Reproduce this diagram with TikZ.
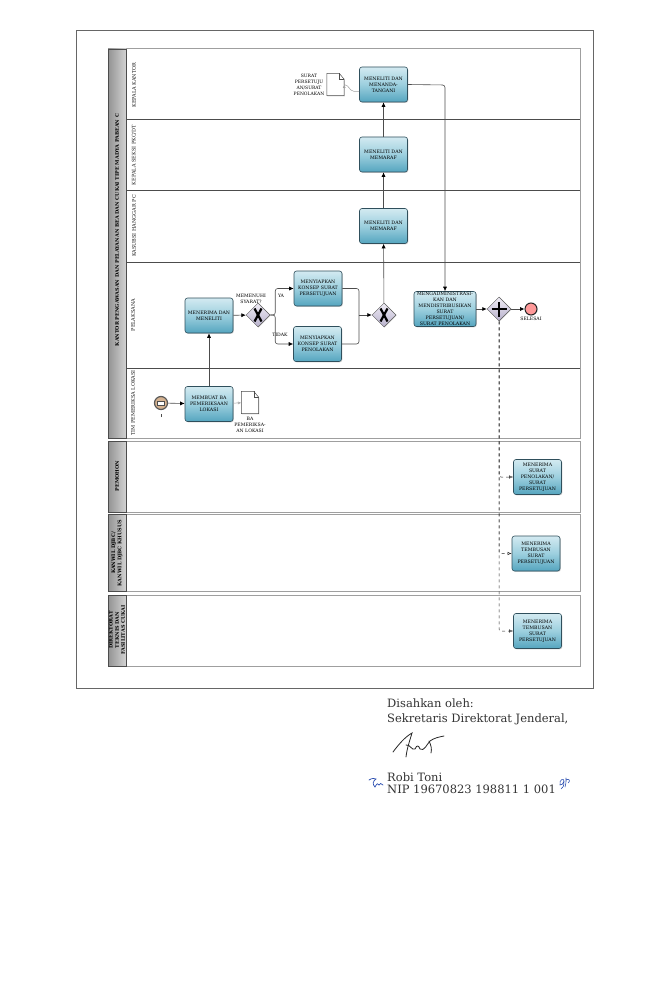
\documentclass[tikz,border=0pt]{standalone}
\usepackage{fontspec}
\usetikzlibrary{arrows.meta,shapes.geometric,shadows}
\newfontfamily\flowfont{DejaVu Serif}
\definecolor{taskline}{HTML}{2F4F5C}
\definecolor{tasktop}{HTML}{D3EAF1}
\definecolor{taskmid}{HTML}{9CCFDE}
\definecolor{taskbot}{HTML}{55A5BF}
\definecolor{gatetop}{HTML}{EFECF5}
\definecolor{gatebot}{HTML}{B8B1CC}
\definecolor{penink}{HTML}{2A4DB0}
\tikzset{
  tasknode/.style={draw=taskline,line width=0.6pt,rounded corners=2.5pt,top color=tasktop,bottom color=taskbot,middle color=taskmid,
    minimum width=48pt,minimum height=35pt,inner sep=0pt,align=center,text=black,
    font=\flowfont\fontsize{4.7}{5.9}\selectfont,drop shadow={shadow xshift=0.8pt,shadow yshift=-0.8pt,fill=gray!70}},
  gatenode/.style={diamond,draw=gray!70!black,line width=0.5pt,top color=gatetop,bottom color=gatebot,
    minimum size=24pt,inner sep=0pt,drop shadow={shadow xshift=0.6pt,shadow yshift=-0.6pt,fill=gray!60}},
  docnode/.style={minimum width=17pt,minimum height=22pt,inner sep=0pt},
  lanetext/.style={rotate=90,align=center,text=black!90,font=\flowfont\fontsize{5}{5.6}\selectfont},
  pooltext/.style={rotate=90,align=center,text=black,font=\flowfont\bfseries\fontsize{4.9}{6.2}\selectfont},
  smalltext/.style={align=center,text=black,font=\flowfont\fontsize{4.6}{6}\selectfont},
  flowline/.style={draw=black!70,line width=0.6pt,rounded corners=2.5pt,-{Latex[length=4.5pt,width=4pt,black]}},
  dashline/.style={draw=black!85,line width=0.5pt,dashed,rounded corners=2pt,-{Latex[open,length=4pt,width=3.2pt]}},
  assocline/.style={draw=gray!75,line width=0.5pt,rounded corners=2pt,-{Latex[open,length=3.5pt,width=3pt]}},
  signtext/.style={anchor=west,align=left,inner sep=0pt,text=black!80}
}
\begin{document}
\begin{tikzpicture}[x=1pt,y=-1pt]
  \useasboundingbox (0,0) rectangle (654,1000);
  \draw[gray!80!black,line width=0.8pt] (76,30) rectangle (593,688);

  \foreach \ya/\yb in {49/438,441/512,514/591,595/666}{
    \draw[gray!75,line width=1pt] (108,\ya) rectangle (580,\yb);
    \shade[left color=gray!85,right color=gray!35] (108,\ya) rectangle (126,\yb);
    \draw[gray!60!black,line width=0.7pt] (108,\ya) rectangle (126,\yb);
  }
  \foreach \y in {119,190,262,368}{
    \draw[black!70,line width=0.6pt] (126,\y) -- (580,\y);
  }

  \node[pooltext] (kantor) at (117,230) {KANTOR PENGAWASAN DAN PELAYANAN BEA DAN CUKAI TIPE MADYA PABEAN C};
  \node[pooltext] (pemohon) at (117,476) {PEMOHON};
  \node[pooltext] (kanwil) at (117,553) {KANWIL DJBC/\\KANWIL DJBC KHUSUS};
  \node[pooltext] (direktorat) at (117,630) {DIREKTORAT\\TEKNIS DAN\\FASILITAS CUKAI};

  \node[lanetext] (lanekepala) at (134,85) {KEPALA KANTOR};
  \node[lanetext] (laneseksi) at (134,155) {KEPALA SEKSI PKC/DT};
  \node[lanetext] (lanesubsi) at (134,226) {KASUBSI HANGGAR PC};
  \node[lanetext] (lanepelaksana) at (133,315) {PELAKSANA};
  \node[lanetext] (lanetim) at (133,403) {TIM PEMERIKSA LOKASI};

  \node[tasknode] (tandatangan) at (383.5,84.5) {MENELITI DAN\\MENANDA-\\TANGANI};
  \node[tasknode] (paraf) at (383.5,154.5) {MENELITI DAN\\MEMARAF};
  \node[tasknode] (subsi) at (383.5,226) {MENELITI DAN\\MEMARAF};
  \node[tasknode] (teliti) at (209,315.5) {MENERIMA DAN\\MENELITI};
  \node[tasknode] (periksa) at (209,404) {MEMBUAT BA\\PEMERIKSAAN\\LOKASI};
  \node[tasknode] (setuju) at (318,288.5) {MENYIAPKAN\\KONSEP SURAT\\PERSETUJUAN};
  \node[tasknode] (tolak) at (317.5,344) {MENYIAPKAN\\KONSEP SURAT\\PENOLAKAN};
  \node[tasknode,minimum width=62pt] (kirim) at (445,309) {MENGADMINISTRASI-\\KAN DAN\\MENDISTRIBUSIKAN\\SURAT\\PERSETUJUAN/\\SURAT PENOLAKAN};
  \node[tasknode] (terimaa) at (537.5,477) {MENERIMA\\SURAT\\PENOLAKAN/\\SURAT\\PERSETUJUAN};
  \node[tasknode] (terimab) at (536,553.5) {MENERIMA\\TEMBUSAN\\SURAT\\PERSETUJUAN};
  \node[tasknode] (terimac) at (537.5,631) {MENERIMA\\TEMBUSAN\\SURAT\\PERSETUJUAN};

  \node[gatenode] (syarat) at (258,315) {};
  \node[gatenode] (gabung) at (384,315) {};
  \node[gatenode] (bagi) at (499,309) {};
  \foreach \g in {syarat,gabung}{
    \draw[black,line width=2.2pt] ([shift={(-3.5,-6.5)}]\g.center) -- ([shift={(3.5,6.5)}]\g.center);
    \draw[black,line width=2.2pt] ([shift={(3.5,-6.5)}]\g.center) -- ([shift={(-3.5,6.5)}]\g.center);
  }
  \draw[black,line width=1.4pt] ([xshift=-7.5pt]bagi.center) -- ([xshift=7.5pt]bagi.center);
  \draw[black,line width=1.4pt] ([yshift=-7.5pt]bagi.center) -- ([yshift=7.5pt]bagi.center);

  \node[circle,draw=gray!70!black,line width=1.2pt,fill=orange!45!gray!60,minimum size=13pt,inner sep=0pt,
    drop shadow={shadow xshift=0.5pt,shadow yshift=-0.5pt,fill=gray!60}] (mulai) at (161,403) {};
  \fill[white,draw=black!70,line width=0.3pt] ([shift={(-3.5,-2)}]mulai.center) rectangle ([shift={(3.5,2)}]mulai.center);
  \draw[black!70,line width=0.4pt] ([yshift=-7pt]mulai.south) -- ([yshift=-3.5pt]mulai.south);
  \node[circle,draw=black!85,line width=1pt,fill=red!40,minimum size=12pt,inner sep=0pt,
    drop shadow={shadow xshift=0.6pt,shadow yshift=-0.6pt,fill=gray!60}] (selesai) at (531,309) {};
  \node[smalltext] (selesaitext) at (531,319) {SELESAI};

  \node[docnode] (badoc) at (250,402.5) {};
  \node[docnode] (suratdoc) at (335.5,84.5) {};
  \foreach \d in {badoc,suratdoc}{
    \draw[black!70,line width=0.5pt,fill=white,drop shadow={shadow xshift=0.6pt,shadow yshift=-0.6pt,fill=gray!60}]
      (\d.north west) -- ([xshift=-5pt]\d.north east) -- ([yshift=-6pt]\d.north east) -- (\d.south east) -- (\d.south west) -- cycle;
    \draw[black!70,line width=0.4pt] ([xshift=-5pt]\d.north east) -- ([shift={(-5,6)}]\d.north east) -- ([yshift=-6pt]\d.north east);
  }
  \node[smalltext] (batext) at (250,425) {BA\\PEMERIKSA-\\AN LOKASI};
  \node[smalltext,font=\flowfont\fontsize{4.5}{6.2}\selectfont] (surattext) at (309,85) {SURAT\\PERSETUJU\\AN/SURAT\\PENOLAKAN};
  \node[smalltext] (syarattext) at (251,299) {MEMENUHI\\SYARAT?};
  \node[smalltext] (yatext) at (281,296) {YA};
  \node[smalltext] (tidaktext) at (280,335) {TIDAK};

  \coordinate (kanan) at (445,85);
  \draw[flowline] (mulai) -- (periksa);
  \draw[flowline] (periksa) -- (teliti);
  \draw[flowline] (teliti) -- (syarat);
  \draw[flowline] (syarat.east) -- ++(5,0) |- (setuju.west);
  \draw[flowline] (syarat.east) -- ++(5,0) |- (tolak.west);
  \draw[flowline,-] (setuju.east) -| (359,315);
  \draw[flowline,-] (tolak.east) -| (359,315);
  \draw[flowline] (359,315) -- (gabung.west);
  \draw[flowline] (gabung) -- (subsi);
  \draw[flowline] (subsi) -- (paraf);
  \draw[flowline] (paraf) -- (tandatangan);
  \draw[flowline] (tandatangan.east) -- (kanan) -- (kirim.north);
  \draw[flowline] (kirim) -- (bagi);
  \draw[flowline] (bagi) -- (selesai);
  \draw[dashline] (bagi.south) |- (terimaa.west);
  \draw[dashline] (bagi.south) |- (terimab.west);
  \draw[dashline] (bagi.south) |- (terimac.west);
  \draw[assocline] (periksa) -- (badoc);
  \draw[assocline] ([yshift=-7pt]tandatangan.west) -- ++(-7,0) -- ([xshift=2pt]suratdoc.east) -- (suratdoc.east);

  \node[signtext,font=\flowfont\fontsize{11.5}{14.5}\selectfont] (sekretaris) at (387,712) {Disahkan oleh:\\Sekretaris Direktorat Jenderal,};
  \node[signtext,font=\flowfont\fontsize{11.5}{12}\selectfont] (robi) at (387,783) {Robi Toni\\NIP 19670823 198811 1 001};
  \draw[black!85,line width=0.8pt,line cap=round] (393,752) .. controls (399,744) and (405,737) .. (412,733)
    .. controls (410,740) and (407,748) .. (406,757);
  \draw[black!85,line width=0.8pt,line cap=round] (406,745) .. controls (410,744) and (412,751) .. (415,749)
    .. controls (417,744) and (419,746) .. (420,749) .. controls (424,752) and (427,744) .. (430,741)
    .. controls (434,738) and (439,737) .. (444,736);
  \draw[black!85,line width=0.8pt,line cap=round] (429,741) .. controls (431,745) and (432,749) .. (431,753);
  \draw[penink,line width=0.7pt,line cap=round] (369,780) .. controls (372,778) and (375,778) .. (376,779)
    .. controls (373,781) and (372,784) .. (375,787) .. controls (377,783) and (378,783) .. (379,785)
    .. controls (380,783) and (381,783) .. (383,785);
  \draw[penink,line width=0.6pt,line cap=round] (560,785) .. controls (559,779) and (564,778) .. (564,781)
    .. controls (564,784) and (561,785) .. (560,785) (564,781) .. controls (564,786) and (563,788) .. (561,789)
    (566,778) .. controls (566,782) and (566,785) .. (565,787) (566,780) .. controls (569,778) and (571,781) .. (568,783);
\end{tikzpicture}
\end{document}
